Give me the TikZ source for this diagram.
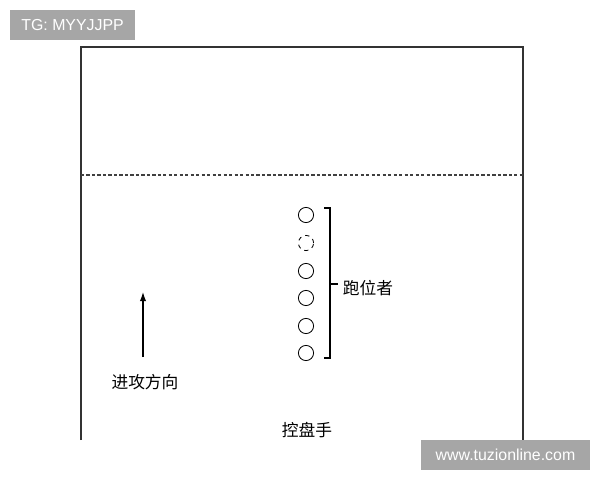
\documentclass[tikz,border=0pt]{standalone}
\usepackage{fontspec}
\setmainfont{Liberation Sans}
\newfontfamily\cjk{Noto Sans CJK SC}
\usetikzlibrary{positioning,arrows.meta}
\tikzset{>={Latex[length=6.5pt,width=4.5pt]}}
\tikzset{
    player/.style={draw, circle, minimum size=10.8pt, inner sep=0pt, line width=0.6pt},
    tag/.style={fill=black!35, text=white, inner sep=0pt, font=\fontsize{11.3}{13}\selectfont},
    lbl/.style={font=\cjk\fontsize{11.9}{14}\selectfont}
}

\begin{document}
\begin{tikzpicture}[x=0.025cm, y=-0.025cm]
    \useasboundingbox (0,0) rectangle (600,480);

    % court, open at the bottom
    \draw[line width=0.8pt, black!80] (81,440) -- (81,47) -- (523,47) -- (523,440);
    \draw[line width=0.8pt, black!75, dash pattern=on 2.3pt off 1.6pt] (81,175) -- (523,175);

    % runners
    \foreach \i/\y/\s in {1/215/solid, 2/243/dashed, 3/271/solid, 4/298/solid, 5/326/solid, 6/353/solid}
        \node[player, \s] (r\i) at (306,\y) {};

    \coordinate (bt) at (330,208);
    \coordinate (bb) at (330,358);
    \draw[line width=0.8pt] ([xshift=-4pt]bt) -- (bt) -- (bb) -- ([xshift=-4pt]bb);
    \node[lbl, anchor=west] (runner) at (338,288) {跑位者};
    \draw[line width=0.8pt] (330,284) -- (runner.west |- 0,284);

    % attack direction
    \coordinate (a0) at (143,357);
    \coordinate (a1) at (143,292);
    \draw[->, line width=0.8pt] (a0) -- (a1);
    \node[lbl] (dir) at (145,382) {进攻方向};

    \node[lbl] (handler) at (307,430) {控盘手};

    % watermarks
    \node[tag, anchor=north west, minimum width=88.6pt, minimum height=21.3pt] (tg) at (10,10) {TG: MYYJJPP};
    \node[tag, anchor=north west, minimum width=119.8pt, minimum height=21.3pt] (www) at (421,440) {www.tuzionline.com};
\end{tikzpicture}
\end{document}
